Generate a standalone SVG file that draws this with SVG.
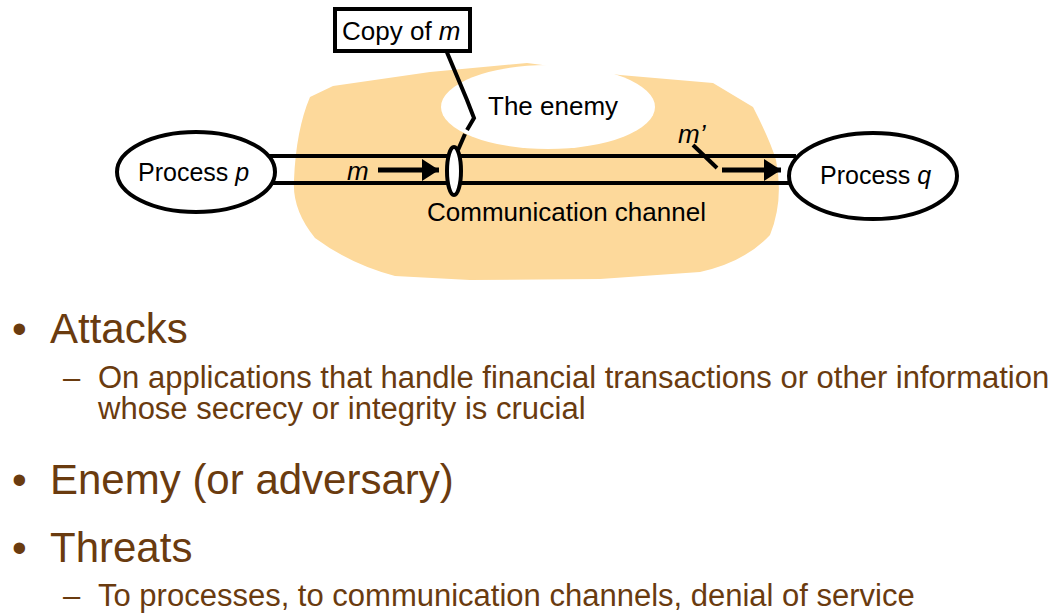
<svg xmlns="http://www.w3.org/2000/svg" width="1058" height="613" viewBox="0 0 1058 613">
<style>
.lbl{font-family:"Liberation Sans",Arial,sans-serif;font-size:26px;fill:#000}
.pl{font-family:"Liberation Sans",Arial,sans-serif;font-size:25px;fill:#000}
.it{font-style:italic}
.ln{stroke:#000;stroke-width:4;fill:none}
.shape{stroke:#000;stroke-width:4;fill:#fff}
.b1{font-family:"Liberation Sans",Arial,sans-serif;font-size:42px;fill:#6A3B0F}
.b2{font-family:"Liberation Sans",Arial,sans-serif;font-size:31px;fill:#6A3B0F}
</style>
<defs>
<marker id="ah" markerWidth="3.4" markerHeight="4.4" refX="3.4" refY="2.2" orient="auto" markerUnits="strokeWidth">
<path d="M0,0 L3.4,2.2 L0,4.4 Z" fill="#000"/>
</marker>
</defs>
<rect width="1058" height="613" fill="#fff"/>
<g id="enemy-area">
<path d="M310,97 L333,86 L430,72 L527,63 L620,75 L713,83 L753,107 Q770,140 776,160 Q784,200 770,235 Q745,262 700,272 L600,279 L470,280 L395,276 Q350,264 315,238 Q292,210 294,180 Q296,130 310,97 Z" fill="#FDD99B"/>
<ellipse cx="548" cy="107" rx="107" ry="42" fill="#fff"/>
</g>
<g id="connectors">
<line class="ln" x1="268" y1="156" x2="796" y2="156"/>
<line class="ln" x1="268" y1="183" x2="796" y2="183"/>
<line x1="378" y1="170" x2="439" y2="170" stroke="#000" stroke-width="5" marker-end="url(#ah)"/>
<line class="ln" x1="693" y1="145" x2="717" y2="168"/>
<line x1="722" y1="170" x2="781" y2="170" stroke="#000" stroke-width="5" marker-end="url(#ah)"/>
<polyline class="ln" points="458,150 465,134"/>
<polyline class="ln" points="467,130 474,118 467,100 446,50"/>
</g>
<g id="tap">
<ellipse class="shape" cx="454" cy="171" rx="7" ry="24"/>
</g>
<g id="process-p">
<ellipse class="shape" cx="196" cy="172" rx="79" ry="40"/>
<text class="pl" x="138" y="181">Process <tspan class="it">p</tspan></text>
</g>
<g id="process-q">
<ellipse class="shape" cx="873" cy="176" rx="84" ry="43"/>
<text class="pl" x="820" y="184">Process <tspan class="it">q</tspan></text>
</g>
<g id="copy-of-m">
<rect class="shape" x="335" y="9" width="135" height="42"/>
<text class="lbl" x="342" y="40">Copy of <tspan class="it">m</tspan></text>
</g>
<g id="labels">
<text class="lbl" x="488" y="115">The enemy</text>
<text class="lbl" x="427" y="221">Communication channel</text>
<text class="lbl it" x="347" y="180">m</text>
<text class="lbl it" x="678" y="143">m’</text>
</g>
<g id="bullets">
<text class="b1" x="12" y="343">•</text>
<text class="b1" x="50" y="343">Attacks</text>
<text class="b2" x="63" y="388">–</text>
<text class="b2" x="98" y="388">On applications that handle financial transactions or other information</text>
<text class="b2" x="98" y="419">whose secrecy or integrity is crucial</text>
<text class="b1" x="12" y="494">•</text>
<text class="b1" x="50" y="494">Enemy (or adversary)</text>
<text class="b1" x="12" y="562">•</text>
<text class="b1" x="50" y="562">Threats</text>
<text class="b2" x="63" y="606">–</text>
<text class="b2" x="98" y="606">To processes, to communication channels, denial of service</text>
</g>
</svg>
